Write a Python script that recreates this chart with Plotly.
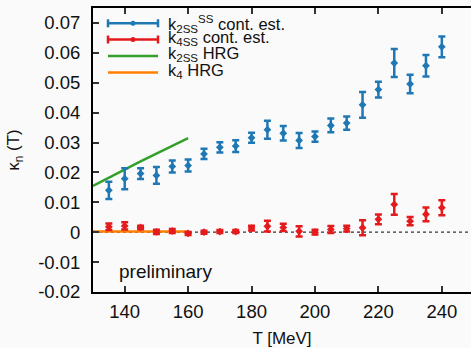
import plotly.graph_objects as go

# ---- data ----
T = [135, 140, 145, 150, 155, 160, 165, 170, 175, 180, 185,
     190, 195, 200, 205, 210, 215, 220, 225, 230, 235, 240]
k2_cont = [0.0140, 0.0179, 0.0196, 0.0190, 0.0220, 0.0223, 0.0262, 0.0284, 0.0288, 0.0316, 0.0343,
           0.0331, 0.0307, 0.0320, 0.0357, 0.0365, 0.0426, 0.0477, 0.0566, 0.0496, 0.0557, 0.0620]
k2_err = [0.0029, 0.0035, 0.0018, 0.0028, 0.0020, 0.0020, 0.0017, 0.0017, 0.0020, 0.0017, 0.0030,
          0.0024, 0.0025, 0.0017, 0.0023, 0.0022, 0.0043, 0.0026, 0.0047, 0.0031, 0.0036, 0.0035]
k4_cont = [0.0018, 0.0021, 0.0016, 0.0001, 0.0004, -0.0004, 0.0000, 0.0002, 0.0002, 0.0014, 0.0020,
           0.0016, 0.0003, 0.0000, 0.0009, 0.0012, 0.0015, 0.0043, 0.0093, 0.0037, 0.0060, 0.0082]
k4_err = [0.0011, 0.0012, 0.0006, 0.0007, 0.0007, 0.0005, 0.0005, 0.0005, 0.0005, 0.0008, 0.0018,
          0.0012, 0.0017, 0.0008, 0.0012, 0.0010, 0.0025, 0.0016, 0.0035, 0.0014, 0.0023, 0.0025]
T_hrg = [130, 135, 140, 145, 150, 155, 160]
k2_hrg = [0.0155, 0.0183, 0.0211, 0.0237, 0.0263, 0.0289, 0.0315]
k4_hrg = [0.0002, 0.0002, 0.0002, 0.0002, 0.0002, 0.0002, 0.0002]

x_tickvals = [140, 160, 180, 200, 220, 240]
x_ticktext = ["140", "160", "180", "200", "220", "240"]
y_tickvals = [-0.02, -0.01, 0, 0.01, 0.02, 0.03, 0.04, 0.05, 0.06, 0.07]
y_ticktext = ["-0.02", "-0.01", "0", "0.01", "0.02", "0.03", "0.04", "0.05", "0.06", "0.07"]

names = ["k<sub>2SS</sub><sup>SS</sup> cont. est.", "k<sub>4SS</sub> cont. est.",
         "k<sub>2SS</sub> HRG", "k<sub>4</sub> HRG"]

BLUE = "#1f78b4"
RED = "#e41a1c"
GREEN = "#33a02c"
ORANGE = "#ff7f00"
FONT = "Liberation Sans, Arial, sans-serif"
TXT = "#111111"

XR = [130, 249.2]
YR = [-0.02, 0.075]

# plot-area geometry (pixels) used for the hand-made legend
W, H = 471, 348
ML, MR, MT, MB = 93, 0, 8, 56
PW, PH = W - ML - MR, H - MT - MB


def px(x):
    return (x - ML) / PW


def py(y):
    return (H - MB - y) / PH


fig = go.Figure()

# zero reference line (dotted)
fig.add_hline(y=0, line=dict(color="#333333", width=1.3, dash="dot"), layer="below")

fig.add_trace(go.Scatter(x=T_hrg, y=k4_hrg, mode="lines", line=dict(color=ORANGE, width=2.5),
                         showlegend=False))
fig.add_trace(go.Scatter(x=T_hrg, y=k2_hrg, mode="lines", line=dict(color=GREEN, width=2.5),
                         showlegend=False))
fig.add_trace(go.Scatter(x=T, y=k2_cont, mode="markers",
                         marker=dict(color=BLUE, size=6, symbol="diamond"),
                         error_y=dict(type="data", array=k2_err, color=BLUE, thickness=2.5, width=3.5),
                         showlegend=False))
fig.add_trace(go.Scatter(x=T, y=k4_cont, mode="markers",
                         marker=dict(color=RED, size=6, symbol="diamond"),
                         error_y=dict(type="data", array=k4_err, color=RED, thickness=2.5, width=3.5),
                         showlegend=False))

# ---- hand-made legend (gnuplot style) ----
leg_rows = [(names[0], BLUE, True, 23.3, -1), (names[1], RED, True, 39.5, 2),
            (names[2], GREEN, False, 56.0, 2), (names[3], ORANGE, False, 72.5, 2)]
x0, x1, xt = 108, 158, 166
for nm, col, bars, yy, ys in leg_rows:
    fig.add_shape(type="line", xref="paper", yref="paper", x0=px(x0), x1=px(x1),
                  y0=py(yy), y1=py(yy), line=dict(color=col, width=2.5))
    if bars:
        for xc in (x0, x1):
            fig.add_shape(type="line", xref="paper", yref="paper", x0=px(xc), x1=px(xc),
                          y0=py(yy - 4), y1=py(yy + 4), line=dict(color=col, width=2.5))
        fig.add_shape(type="circle", xref="paper", yref="paper", x0=px(130.5), x1=px(135.5),
                      y0=py(yy - 2.5), y1=py(yy + 2.5), fillcolor=col, line=dict(color=col, width=0))
    fig.add_annotation(text=nm, xref="paper", yref="paper", x=px(xt), y=py(yy),
                       xanchor="left", yanchor="middle", yshift=ys, showarrow=False,
                       font=dict(size=16.5, color=TXT, family=FONT))

fig.add_annotation(text="preliminary", x=px(165), y=py(271), xref="paper", yref="paper",
                   xanchor="center", yanchor="middle",
                   showarrow=False, font=dict(size=19, color=TXT, family=FONT))

axis_common = dict(showgrid=False, zeroline=False, ticks="inside", ticklen=6, tickwidth=1.5,
                   tickcolor="#333333", linecolor="black", linewidth=2,
                   tickfont=dict(size=18.5, color=TXT, family=FONT))

fig.update_layout(
    width=W, height=H,
    margin=dict(l=ML, r=MR, t=MT, b=MB),
    paper_bgcolor="#fafafa", plot_bgcolor="#fafafa",
    font=dict(family=FONT, color=TXT),
    xaxis=dict(range=XR, tickvals=x_tickvals, ticktext=x_ticktext, showline=True,
               mirror="ticks", ticklabelstandoff=2,
               title=dict(text="T [MeV]", font=dict(size=17), standoff=12),
               **axis_common),
    yaxis=dict(range=YR, tickvals=y_tickvals, ticktext=y_ticktext, showline=True, mirror=False,
               ticklabelstandoff=7,
               title=dict(text="κ<sub>n</sub> (T)", font=dict(size=17), standoff=14),
               **axis_common),
    yaxis2=dict(range=YR, overlaying="y", side="right", tickvals=y_tickvals,
                showticklabels=False, showline=False, showgrid=False, zeroline=False,
                ticks="inside", ticklen=6, tickwidth=1.5, tickcolor="#333333"),
    showlegend=False,
)

fig.write_html("out.html")
